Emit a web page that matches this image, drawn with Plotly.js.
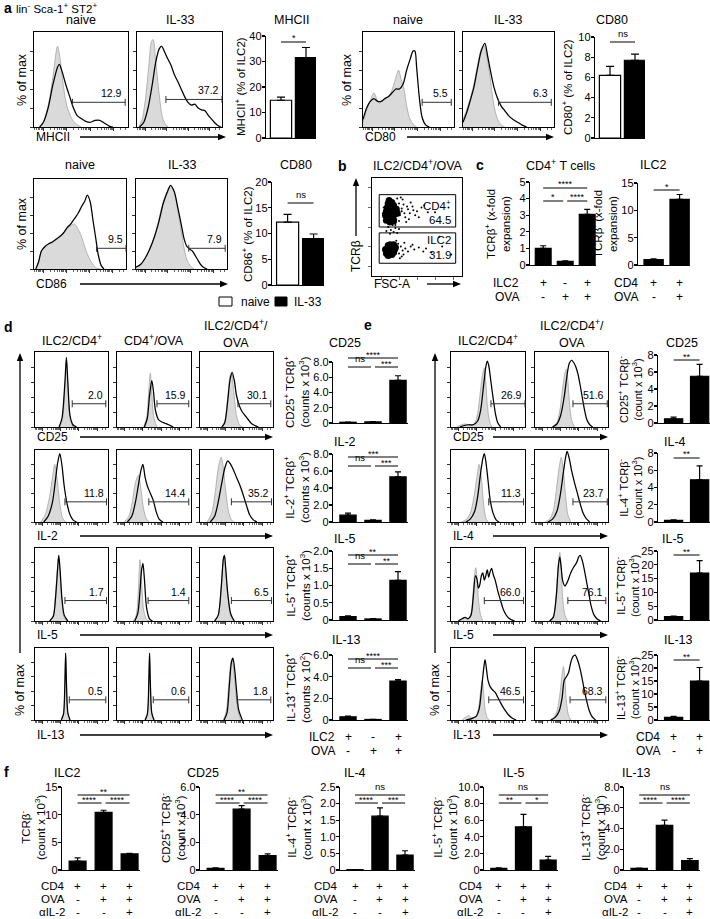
<!DOCTYPE html>
<html><head><meta charset="utf-8">
<script src="https://cdn.plot.ly/plotly-3.0.1.min.js"></script>
<style>html,body{margin:0;padding:0;background:#fff}#plot{width:710px;height:919px}</style>
</head><body><div id="plot"></div>
<script>
// ================= DATA =================
// Histogram curves: flattened pairs (x position in % of axis, % of max)
// Panel a
const A1g=[5,0,10,5,15,22,20,52,25,85,28,70,31,45,35,22,40,9,45,3,50,0];
const A1b=[6,0,10,5,15,20,20,44,25,63,27,66,30,58,34,44,38,32,42,20,46,12,50,9,55,6,60,5,65,7,70,7,75,4,80,1,84,0];
const A2g=[2,0,6,8,10,30,14,65,17,90,19,92,22,70,26,35,30,10,34,2,37,0];
const A2b=[3,0,8,5,13,20,18,45,22,68,26,82,29,85,32,80,36,72,40,65,44,55,48,48,52,40,56,32,60,26,64,23,68,24,72,20,76,18,80,17,84,12,88,8,92,4,96,1,99,0];
const A3g=[0,5,4,18,8,28,12,36,15,30,18,25,22,28,26,30,30,35,34,45,37,55,39,60,42,50,45,40,48,22,51,10,55,3,59,0];
const A3b=[0,8,4,20,8,27,12,30,16,27,20,27,24,30,28,32,32,36,36,40,40,40,44,45,48,60,52,72,55,80,57,80,59,62,62,30,65,10,69,2,73,0];
const A4g=[0,8,4,18,8,30,12,45,16,65,20,82,23,86,26,75,29,58,32,35,35,18,38,8,42,2,46,0];
const A4b=[0,5,4,15,8,28,12,42,16,62,20,80,24,88,27,75,30,60,34,42,38,30,42,22,46,17,50,12,55,8,60,5,65,2,70,0];
const A5g=[2,0,5,8,8,20,12,25,16,28,20,30,24,33,28,36,32,40,36,45,40,48,44,50,47,46,50,40,53,32,56,22,60,12,64,5,68,1,72,0];
const A5b=[2,0,5,8,8,20,12,25,16,28,20,30,24,33,28,36,32,40,36,46,40,50,44,56,48,62,52,70,55,75,58,82,61,75,64,55,67,35,70,15,73,4,76,0];
const A6g=[0,2,5,5,10,12,15,22,20,35,25,55,30,75,35,88,38,93,42,85,46,65,50,40,53,22,56,10,60,3,64,0];
const A6b=[0,2,5,5,10,12,15,22,20,35,25,52,30,73,35,87,38,93,42,86,46,68,50,48,53,33,56,25,59,22,62,20,65,15,68,10,71,5,74,2,78,0];
const A_gates=[[41,97,26],[34,100,29],[65,97,26],[39,97,26],[68,100,23],[58,98,23]];
const A_gateLabels=['12.9','37.2','5.5','6.3','9.5','7.9'];
// Panel d (rows CD25, IL-2, IL-5, IL-13; cols ILC2/CD4+, CD4+/OVA, ILC2/CD4+/OVA)
const D11g=[34,0,38,12,41,55,43,88,45,55,48,12,52,0];
const D11b=[33,0,37,12,41,60,43,93,45,60,48,15,52,3,57,0];
const D12g=[36,0,40,12,43,50,45,72,47,45,50,12,54,0];
const D12b=[37,0,41,12,44,42,47,62,49,50,52,22,56,10,60,7,65,5,70,3,76,0];
const D13g=[30,0,34,8,38,40,41,68,43,72,46,50,50,15,54,3,58,0];
const D13b=[30,0,34,6,38,35,41,62,44,73,47,62,50,42,54,28,58,20,62,15,66,10,70,5,75,2,80,0];
const D21g=[8,0,14,10,20,35,24,62,27,80,30,62,34,25,38,5,42,0];
const D21b=[12,0,18,8,24,28,28,58,31,82,34,95,37,78,40,50,44,25,48,10,52,3,57,0];
const D22g=[10,0,16,8,21,30,25,55,29,65,32,48,36,18,40,4,44,0];
const D22b=[14,0,20,8,25,28,29,52,32,70,35,80,38,62,41,50,45,40,49,30,53,14,57,4,62,0];
const D23g=[10,0,16,12,21,42,25,75,29,90,32,75,35,45,39,15,43,3,47,0];
const D23b=[14,0,20,8,25,28,30,55,34,75,38,85,42,80,46,72,50,62,55,50,60,35,64,22,68,10,73,3,78,0];
const D31g=[20,0,25,8,28,35,31,75,32.5,88,34,70,37,25,40,5,44,0];
const D31b=[20,0,25,6,28,30,31,72,32.5,90,34,75,37,30,40,8,45,0];
const D32g=[22,0,26,8,29,45,31,84,33,60,36,15,40,2,44,0];
const D32b=[24,0,28,10,31,40,33,68,35,79,37,58,40,18,44,3,48,0];
const D33g=[20,0,25,8,29,45,32,82,33.5,88,35,72,38,35,42,8,46,0];
const D33b=[20,0,25,8,29,45,32,85,33.5,90,35,75,38,38,42,10,47,0];
const D41g=[36,0,39,8,41,50,42,90,43,50,45,8,48,0];
const D41b=[36,0,39,8,41,55,42,93,43,55,45,10,48,0];
const D42g=[38,0,41,8,43,50,44,90,45,50,47,8,50,0];
const D42b=[38,0,41,8,43,55,44,93,45,55,47,10,50,0];
const D43g=[32,0,36,12,39,45,42,78,44,85,46,72,49,40,52,12,56,0];
const D43b=[33,0,37,10,40,45,43,80,45,86,47,75,50,42,53,14,58,0];
const D_gates=[[51,97,31],[54,97,31],[52,97,31],[41,98,28],[43,97,28],[43,98,28],[41,98,28],[42,97,28],[43,98,28],[47,97,28],[49,97,28],[51,97,28]];
const D_gateLabels=['2.0','15.9','30.1','11.8','14.4','35.2','1.7','1.4','6.5','0.5','0.6','1.8'];
// Panel e (rows CD25, IL-4, IL-5, IL-13; cols ILC2/CD4+, ILC2/CD4+/OVA)
const E11g=[8,0,14,3,20,4,26,2,32,5,36,18,40,50,43,72,45,79,47,60,49,30,52,8,55,0];
const E11b=[12,0,18,2,24,3,30,3,36,8,40,22,44,55,47,80,49,88,51,82,54,60,57,38,60,18,63,6,67,0];
const E12g=[24,0,30,6,34,22,38,52,41,72,43,77,45,62,47,35,50,10,54,0];
const E12b=[24,0,30,4,35,15,40,40,44,70,47,85,50,89,53,86,56,80,59,70,62,55,65,38,68,22,71,10,75,3,79,0];
const E21g=[14,0,20,3,26,12,31,35,35,62,38,80,41,62,44,25,47,6,50,0];
const E21b=[20,0,26,4,32,15,36,35,40,68,43,88,45,95,47,85,50,58,53,30,57,12,61,3,65,0];
const E22g=[14,0,20,4,25,15,29,42,33,75,36,90,39,70,42,35,45,10,49,0];
const E22b=[18,0,24,4,30,15,35,40,39,70,42,90,44,98,47,88,50,72,54,55,58,40,62,25,66,12,70,5,75,0];
const E31g=[10,0,15,3,19,5,23,3,27,10,30,40,32,65,33.5,73,35,60,37,30,40,8,43,0];
const E31b=[10,0,15,3,19,5,23,3,27,8,30,32,33,62,35,58,37,45,39,50,41,62,43,66,45,56,47,62,49,70,51,60,53,68,55,72,57,64,60,55,63,42,67,28,71,15,76,6,81,2,86,0];
const E32g=[20,0,25,6,29,35,32,80,34,94,36,70,38,30,41,8,45,0];
const E32b=[20,0,25,5,29,32,32,75,34,88,36,72,38,55,41,48,45,55,49,66,53,74,57,80,60,88,62,90,65,82,68,68,71,52,74,36,77,20,81,8,86,2,90,0];
const E41g=[15,0,20,4,24,6,28,3,33,4,37,15,40,40,42,55,44,40,46,15,49,3,52,0];
const E41b=[20,0,28,2,34,5,38,15,41,40,44,70,46,84,48,70,50,55,53,46,56,42,60,38,64,30,68,22,72,15,77,8,82,3,88,0];
const E42g=[20,0,26,4,30,12,34,35,37,62,39,74,41,55,43,25,46,6,49,0];
const E42b=[22,0,28,4,33,12,37,30,40,55,43,60,46,66,49,80,52,88,55,90,58,84,62,70,66,50,70,30,74,14,78,5,83,0];
const E_gates=[[54,100,31],[52,99,31],[51,98,28],[52,99,28],[45,98,28],[45,97,28],[51,98,28],[48,97,28]];
const E_gateLabels=['26.9','51.6','11.3','23.7','66.0','76.1','46.5','68.3'];

// Panel b dot plot (FSC-A %, TCRβ %)
const bCoreX=[15,17,19,21,23,25,16,18,20,22,24,26,17,19,21,23,25,27,18,20,22,24,16,20,24,28,19,23, 15,17,19,21,23,25,16,18,20,22,24,26,18,22,20,24];
const bCoreY=[62,60,58,59,61,63,66,65,64,66,65,67,70,69,71,70,69,68,74,73,75,72,57,55,56,64,77,60, 27,25,29,26,28,27,23,31,24,30,24,29,21,22,32,32];
const bDotX=[29,31,33,35,37,40,42,45,48,30,34,38,43,50,55,28,26,32,36,41,46,52,58,62,12,13,30,27,33,39,18,21,24,20,26,16,23,28,30,28,30,32,34,37,40,43,47,29,33,36,52,57,31,13,27,35,45,60,66,70,78,85,88,75];
const bDotY=[70,62,66,73,60,68,64,71,62,56,78,55,75,66,70,79,52,80,64,58,67,60,72,65,64,70,74,58,69,71,50,47,45,43,49,46,52,44,48,27,23,30,26,28,25,30,27,33,20,34,29,25,18,26,36,22,32,28,24,65,30,70,22,40];
const bGateLabels=['CD4<sup>+</sup>','64.5','ILC2','31.9'];

// Bar charts
const a_MHCII=[14.8,31.5], a_MHCII_err=[1.2,4.0];
const a_CD80=[6.2,7.7], a_CD80_err=[0.9,0.6];
const a_CD86=[12.2,9.0], a_CD86_err=[1.5,0.9];
const c_CD4=[1.0,0.22,3.05], c_CD4_err=[0.16,0.03,0.3];
const c_ILC2=[1.0,12.0], c_ILC2_err=[0.12,0.9];
const d_CD25=[0.1,0.15,5.6], d_CD25_err=[0.02,0.03,0.6];
const d_IL2=[0.8,0.2,5.3], d_IL2_err=[0.25,0.05,0.6];
const d_IL5=[0.1,0.03,1.15], d_IL5_err=[0.02,0.01,0.25];
const d_IL13=[0.3,0.05,3.6], d_IL13_err=[0.05,0.02,0.12];
const e_CD25=[0.5,5.5], e_CD25_err=[0.2,1.4];
const e_IL4=[0.2,4.9], e_IL4_err=[0.05,1.6];
const e_IL5=[1.2,17], e_IL5_err=[0.2,4.5];
const e_IL13=[1.0,15], e_IL13_err=[0.4,5.2];
const f_ILC2=[1.6,10.4,2.9], f_ILC2_err=[0.6,0.4,0.12];
const f_CD25=[0.12,4.4,1.05], f_CD25_err=[0.03,0.25,0.12];
const f_IL4=[0.01,1.62,0.45], f_IL4_err=[0.005,0.25,0.13];
const f_IL5=[0.2,5.2,1.2], f_IL5_err=[0.05,1.5,0.45];
const f_IL13=[0.15,4.3,0.9], f_IL13_err=[0.04,0.5,0.2];

const c1_rows=[['ILC2',['+','-','+']],['OVA',['-','+','+']]];
const c2_rows=[['CD4',['+','+']],['OVA',['-','+']]];
const d_rows=[['ILC2',['+','-','+']],['OVA',['-','+','+']]];
const e_rows=[['CD4',['+','+']],['OVA',['-','+']]];
const f_rows=[['CD4',['+','+','+']],['OVA',['-','+','+']],['αIL-2',['-','-','+']]];

// ================= DRAWING =================
const W=710,H=919;
const FONT='Liberation Sans, Arial, sans-serif';
const PX=x=>x/W, PY=y=>1-y/H;
const data=[], shapes=[], ann=[];
const layout={width:W,height:H,margin:{l:0,r:0,t:0,b:0},paper_bgcolor:'#fff',plot_bgcolor:'rgba(0,0,0,0)',
  showlegend:false,font:{family:FONT,size:12,color:'#000'}};
let nAx=0;
function addAxes(x0,x1,y0,y1,xo,yo){
  nAx++;
  const s=nAx===1?'':String(nAx);
  layout['xaxis'+s]=Object.assign({domain:[PX(x0),PX(x1)],anchor:'y'+s,fixedrange:true},JSON.parse(JSON.stringify(xo)));
  layout['yaxis'+s]=Object.assign({domain:[PY(y1),PY(y0)],anchor:'x'+s,fixedrange:true},JSON.parse(JSON.stringify(yo)));
  return {xid:'x'+s,yid:'y'+s};
}
function text(x,y,t,o){ann.push(Object.assign({xref:'paper',yref:'paper',x:PX(x),y:PY(y),text:t,showarrow:false,xanchor:'center',yanchor:'middle',font:{size:12}},o||{}));}
function line(x0,y0,x1,y1,w,c){shapes.push({type:'line',xref:'paper',yref:'paper',x0:PX(x0),y0:PY(y0),x1:PX(x1),y1:PY(y1),line:{color:c||'#000',width:w||1}});}
function rect(x0,y0,x1,y1,fill){shapes.push({type:'rect',xref:'paper',yref:'paper',x0:PX(x0),y0:PY(y0),x1:PX(x1),y1:PY(y1),fillcolor:fill,line:{color:'#000',width:1}});}
function tri(p){shapes.push({type:'path',xref:'paper',yref:'paper',path:'M'+p.map(q=>PX(q[0])+','+PY(q[1])).join('L')+'Z',fillcolor:'#000',line:{width:0}});}
function arrowH(x0,x1,y){line(x0,y,x1-6,y,1.3);tri([[x1,y],[x1-8,y-3.2],[x1-8,y+3.2]]);}
function arrowV(x,y0,y1){line(x,y0,x,y1+6,1.3);tri([[x,y1],[x-3.2,y1+8],[x+3.2,y1+8]]);}

// histogram axes style
const HX_MIN=[];[-15,10,35,60,85].forEach(d=>{for(let k=2;k<10;k++){const v=d+25*Math.log10(k);if(v>0&&v<100)HX_MIN.push(v);}});
const HXA={range:[0,100],showline:true,mirror:true,linecolor:'#000',linewidth:1.1,ticks:'outside',ticklen:3,tickwidth:0.8,tickcolor:'#000',
  tickvals:[10,35,60,85],showticklabels:false,showgrid:false,zeroline:false,
  minor:{tickvals:HX_MIN,ticks:'outside',ticklen:1.6,tickwidth:0.6,tickcolor:'#000',showgrid:false}};
const HYA={range:[0,100],showline:true,mirror:true,linecolor:'#000',linewidth:1.1,ticks:'outside',ticklen:2.5,tickwidth:0.8,tickcolor:'#000',
  tickvals:[0,20,40,60,80],showticklabels:false,showgrid:false,zeroline:false};

function curve(a,ax,filled){
  const x=[],y=[];for(let i=0;i<a.length;i+=2){x.push(a[i]);y.push(a[i+1]);}
  const t={type:'scatter',mode:'lines',x,y,xaxis:ax.xid,yaxis:ax.yid,hoverinfo:'skip',
    line:{shape:'spline',smoothing:0.8,color:filled?'#a3a3a3':'#000',width:filled?0.8:1.25}};
  if(filled){t.fill='tozeroy';t.fillcolor='#dadada';}
  return t;
}
function hist(box,g,b,gate,lab){
  const [x0,x1,y0,y1]=box;
  const ax=addAxes(x0,x1,y0,y1,HXA,HYA);
  data.push(curve(g,ax,true));data.push(curve(b,ax,false));
  const gx0=x0+(x1-x0)*gate[0]/100,gx1=x0+(x1-x0)*gate[1]/100,gy=y1-(y1-y0)*gate[2]/100;
  line(gx0,gy,gx1,gy,1,'#333');line(gx0,gy-3.5,gx0,gy+3.5,1,'#333');line(gx1,gy-3.5,gx1,gy+3.5,1,'#333');
  text(gx1-1,gy-1,lab,{xanchor:'right',yanchor:'bottom',font:{size:10.5}});
}
function bars(c){
  const n=c.vals.length,lo=0.6,hi=0.4;
  const ax=addAxes(c.x0,c.x1,c.yTop,c.y0,
    {range:[-lo,n-1+hi],showline:true,linecolor:'#000',linewidth:1.2,ticks:'',showticklabels:false,showgrid:false,zeroline:false},
    {range:[0,c.ymax],showline:true,linecolor:'#000',linewidth:1.2,ticks:'outside',ticklen:3,tickwidth:1.1,tickcolor:'#000',
     ticklabelstandoff:-2,tickvals:c.tv,ticktext:c.tt,tickfont:{size:11},showgrid:false,zeroline:false});
  data.push({type:'bar',x:c.vals.map((v,i)=>i),y:c.vals,width:c.bw,xaxis:ax.xid,yaxis:ax.yid,hoverinfo:'skip',
    marker:{color:c.colors||'#000',line:{color:'#000',width:1.2}},
    error_y:{type:'data',symmetric:false,array:c.errs,arrayminus:c.errs.map(()=>0),color:'#000',thickness:1.2,width:c.ew||3}});
  if(c.title)text(c.title[1],c.title[2],c.title[0],{font:{size:12.5}});
  if(c.ylab)text(c.ylab[1],c.ylab[2],c.ylab[0],{textangle:-90,font:{size:c.yfs||11.5}});
  return {cx:i=>c.x0+(i+lo)/(n-1+hi+lo)*(c.x1-c.x0)};
}
function sig(ch,i,j,y,t,a,b){
  const x0=ch.cx(i)+(a||0),x1=ch.cx(j)-(b||0);
  line(x0,y,x1,y,1);
  if(t==='ns')text((x0+x1)/2,y-1,t,{yanchor:'bottom',font:{size:9.5}});
  else text((x0+x1)/2,y+3.5,t,{yanchor:'bottom',font:{size:9}});
}
function signs(ch,rows,lx,ys,fs){rows.forEach((r,k)=>{text(lx,ys[k],r[0],{xanchor:'right',font:{size:fs||12}});r[1].forEach((s,i)=>text(ch.cx(i),ys[k],s,{font:{size:fs||12}}));});}

// ---------- Panel a ----------
text(2,8,'<b>a</b>',{xanchor:'left',font:{size:14}});
text(14,8,'lin<sup>-</sup> Sca-1<sup>+</sup> ST2<sup>+</sup>',{xanchor:'left',font:{size:11.5}});
const aBoxes=[[34,128,32,127],[137,222,32,127],[363,454,32,127],[463,554,32,127],[34,126,179,269],[136,227,179,269]];
const aG=[A1g,A2g,A3g,A4g,A5g,A6g],aB=[A1b,A2b,A3b,A4b,A5b,A6b];
aBoxes.forEach((bx,i)=>hist(bx,aG[i],aB[i],A_gates[i],A_gateLabels[i]));
[['naive',81,20],['IL-33',180,20],['naive',408,20],['IL-33',508,20],['naive',80,165],['IL-33',182,165]].forEach(t=>text(t[1],t[2],t[0],{font:{size:12.5}}));
[[22,80],[347,80],[22,224]].forEach(p=>text(p[0],p[1],'% of max',{textangle:-90,font:{size:12.5}}));
text(34,137,'MHCII',{xanchor:'left'});arrowH(80,226,137);
text(363,137,'CD80',{xanchor:'left'});arrowH(407,554,137);
text(34,284,'CD86',{xanchor:'left'});arrowH(80,228,284);
const WB=['#fff','#000'];
const ca1=bars({x0:266,x1:316,yTop:36,y0:138,ymax:40,tv:[0,10,20,30,40],tt:['0','10','20','30','40'],vals:a_MHCII,errs:a_MHCII_err,colors:WB,bw:0.85,ew:4,
  title:['MHCII',291,20],ylab:['MHCII<sup>+</sup> (% of ILC2)',240,87]});
sig(ca1,0,1,42,'*');
const ca2=bars({x0:595,x1:645,yTop:37,y0:138,ymax:10,tv:[0,2,4,6,8,10],tt:['0','2','4','6','8','10'],vals:a_CD80,errs:a_CD80_err,colors:WB,bw:0.85,ew:4,
  title:['CD80',612,20],ylab:['CD80<sup>+</sup> (% of ILC2)',567,87]});
sig(ca2,0,1,42,'ns');
const ca3=bars({x0:272,x1:324,yTop:182,y0:285,ymax:20,tv:[0,5,10,15,20],tt:['0','5','10','15','20'],vals:a_CD86,errs:a_CD86_err,colors:WB,bw:0.85,ew:4,
  title:['CD80',296,165],ylab:['CD86<sup>+</sup> (% of ILC2)',247,234]});
sig(ca3,0,1,203,'ns');
rect(219,297,232,306,'#fff');text(239,302,'naive',{xanchor:'left'});
rect(275,297,287,306,'#000');text(292,302,'IL-33',{xanchor:'left'});

// ---------- Panel b ----------
text(336,166,'<b>b</b>',{xanchor:'left',font:{size:14}});
text(418,165,'ILC2/CD4<sup>+</sup>/OVA',{font:{size:12.5}});
const axb=addAxes(372,462,178,276,
  {range:[0,100],showline:true,mirror:true,linecolor:'#000',linewidth:1.1,ticks:'outside',ticklen:2.5,tickwidth:0.8,tickvals:[10,30,50,70,90],showticklabels:false,showgrid:false,zeroline:false},
  {range:[0,100],showline:true,mirror:true,linecolor:'#000',linewidth:1.1,ticks:'outside',ticklen:2.5,tickwidth:0.8,tickvals:[10,30,50,70,90],showticklabels:false,showgrid:false,zeroline:false});
data.push({type:'scatter',mode:'markers',x:bDotX,y:bDotY,xaxis:axb.xid,yaxis:axb.yid,marker:{size:2,color:'#000'},hoverinfo:'skip'});
data.push({type:'scatter',mode:'markers',x:bCoreX,y:bCoreY,xaxis:axb.xid,yaxis:axb.yid,marker:{size:7,color:'#000'},hoverinfo:'skip'});
shapes.push({type:'rect',xref:axb.xid,yref:axb.yid,x0:8,x1:93,y0:50,y1:83,line:{color:'#000',width:1}});
shapes.push({type:'rect',xref:axb.xid,yref:axb.yid,x0:8,x1:93,y0:13,y1:44,line:{color:'#000',width:1}});
[[72,0],[57,1],[37,2],[21,3]].forEach(p=>ann.push({xref:axb.xid,yref:axb.yid,x:90,y:p[0],text:bGateLabels[p[1]],showarrow:false,xanchor:'right',yanchor:'middle',font:{size:11.5}}));
text(356,256,'TCRβ',{textangle:-90});arrowV(356,236,178);
text(372,284,'FSC-A',{xanchor:'left'});arrowH(427,461,284);

// ---------- Panel c ----------
text(474,165,'<b>c</b>',{xanchor:'left',font:{size:14}});
const cc1=bars({x0:530,x1:596,yTop:182,y0:265,ymax:5,tv:[0,1,2,3,4,5],tt:['0','1','2','3','4','5'],vals:c_CD4,errs:c_CD4_err,bw:0.72,
  title:['CD4<sup>+</sup> T cells',560,165],ylab:['TCRβ<sup>+</sup> (x-fold<br>expansion)',497,224]});
sig(cc1,0,2,188,'****');sig(cc1,0,1,201,'*',0,2);sig(cc1,1,2,201,'****',2,0);
signs(cc1,c1_rows,521,[283,297]);
const cc2=bars({x0:638,x1:690,yTop:183,y0:265,ymax:15,tv:[0,5,10,15],tt:['0','5','10','15'],vals:c_ILC2,errs:c_ILC2_err,bw:0.74,
  title:['ILC2',653,165],ylab:['TCRβ<sup>-</sup> (x-fold<br>expansion)',604,224]});
sig(cc2,0,1,190,'*');
signs(cc2,c2_rows,640,[283,297]);

// ---------- Panel d ----------
text(2,327,'<b>d</b>',{xanchor:'left',font:{size:14}});
text(72,340,'ILC2/CD4<sup>+</sup>',{font:{size:12.5}});
text(154,340,'CD4<sup>+</sup>/OVA',{font:{size:12.5}});
text(236,333,'ILC2/CD4<sup>+</sup>/<br>OVA',{font:{size:12.5}});
const dCols=[[35,108],[117,191],[200,273]],hRows=[[352,427],[450,522],[548,621],[648,720]];
const dG=[[D11g,D12g,D13g],[D21g,D22g,D23g],[D31g,D32g,D33g],[D41g,D42g,D43g]];
const dB=[[D11b,D12b,D13b],[D21b,D22b,D23b],[D31b,D32b,D33b],[D41b,D42b,D43b]];
hRows.forEach((r,ri)=>dCols.forEach((c,ci)=>hist([c[0],c[1],r[0],r[1]],dG[ri][ci],dB[ri][ci],D_gates[ri*3+ci],D_gateLabels[ri*3+ci])));
const rowLabY=[437,536,635,735];
['CD25','IL-2','IL-5','IL-13'].forEach((t,i)=>{text(35,rowLabY[i],t,{xanchor:'left'});arrowH(80,273,rowLabY[i]);});
arrowV(20,653,353);text(20,690,'% of max',{textangle:-90,font:{size:12.5}});
const dT=['0','2.0','4.0','6.0','8.0'];
const cd1=bars({x0:333,x1:408,yTop:362,y0:423,ymax:8,tv:[0,2,4,6,8],tt:dT,vals:d_CD25,errs:d_CD25_err,bw:0.65,
  title:['CD25',345,343],ylab:['CD25<sup>+</sup> TCRβ<sup>+</sup><br>(counts x 10<sup>3</sup>)',297,392]});
sig(cd1,0,2,358,'****');sig(cd1,0,1,367,'ns',0,2);sig(cd1,1,2,367,'***',2,0);
const cd2=bars({x0:333,x1:408,yTop:454,y0:522,ymax:8,tv:[0,2,4,6,8],tt:dT,vals:d_IL2,errs:d_IL2_err,bw:0.65,
  title:['IL-2',345,442],ylab:['IL-2<sup>+</sup> TCRβ<sup>+</sup><br>(counts x 10<sup>3</sup>)',297,488]});
sig(cd2,0,2,457,'***');sig(cd2,0,1,466,'ns',0,2);sig(cd2,1,2,466,'***',2,0);
const cd3=bars({x0:333,x1:408,yTop:551,y0:620,ymax:2,tv:[0,0.5,1,1.5,2],tt:['0','0.5','1.0','1.5','2.0'],vals:d_IL5,errs:d_IL5_err,bw:0.65,
  title:['IL-5',345,539],ylab:['IL-5<sup>+</sup> TCRβ<sup>+</sup><br>(counts x 10<sup>3</sup>)',297,586]});
sig(cd3,0,2,555,'**');sig(cd3,0,1,564,'ns',0,2);sig(cd3,1,2,564,'**',2,0);
const cd4=bars({x0:333,x1:408,yTop:655,y0:720,ymax:6,tv:[0,2,4,6],tt:['0','2.0','4.0','6.0'],vals:d_IL13,errs:d_IL13_err,bw:0.65,
  title:['IL-13',346,640],ylab:['IL-13<sup>+</sup> TCRβ<sup>+</sup><br>(counts x 10<sup>2</sup>)',297,688]});
sig(cd4,0,2,659,'****');sig(cd4,0,1,668,'ns',0,2);sig(cd4,1,2,668,'***',2,0);
signs(cd4,d_rows,337,[737,751]);

// ---------- Panel e ----------
text(362,325,'<b>e</b>',{xanchor:'left',font:{size:14}});
text(488,340,'ILC2/CD4<sup>+</sup>',{font:{size:12.5}});
text(572,333,'ILC2/CD4<sup>+</sup>/<br>OVA',{font:{size:12.5}});
const eCols=[[451,525],[535,608]];
const eG=[[E11g,E12g],[E21g,E22g],[E31g,E32g],[E41g,E42g]];
const eB=[[E11b,E12b],[E21b,E22b],[E31b,E32b],[E41b,E42b]];
hRows.forEach((r,ri)=>eCols.forEach((c,ci)=>hist([c[0],c[1],r[0],r[1]],eG[ri][ci],eB[ri][ci],E_gates[ri*2+ci],E_gateLabels[ri*2+ci])));
['CD25','IL-4','IL-5','IL-13'].forEach((t,i)=>{text(451,rowLabY[i],t,{xanchor:'left'});arrowH(493,608,rowLabY[i]);});
arrowV(435,653,353);text(435,690,'% of max',{textangle:-90,font:{size:12.5}});
const ce1=bars({x0:658,x1:710,yTop:355,y0:423,ymax:8,tv:[0,2,4,6,8],tt:['0','2','4','6','8'],vals:e_CD25,errs:e_CD25_err,bw:0.7,yfs:11,
  title:['CD25',682,343],ylab:['CD25<sup>+</sup> TCRβ<sup>-</sup><br>(count x 10<sup>3</sup>)',630,390]});
sig(ce1,0,1,360,'**');
const ce2=bars({x0:658,x1:710,yTop:453,y0:522,ymax:8,tv:[0,2,4,6,8],tt:['0','2','4','6','8'],vals:e_IL4,errs:e_IL4_err,bw:0.7,yfs:11,
  title:['IL-4',675,442],ylab:['IL-4<sup>+</sup> TCRβ<sup>-</sup><br>(count x 10<sup>3</sup>)',630,488]});
sig(ce2,0,1,458,'**');
const ce3=bars({x0:658,x1:710,yTop:551,y0:620,ymax:25,tv:[0,5,10,15,20,25],tt:['0','5','10','15','20','25'],vals:e_IL5,errs:e_IL5_err,bw:0.7,yfs:11,
  title:['IL-5',673,539],ylab:['IL-5<sup>+</sup> TCRβ<sup>-</sup><br>(count x 10<sup>3</sup>)',627,586]});
sig(ce3,0,1,555,'**');
const ce4=bars({x0:658,x1:710,yTop:655,y0:720,ymax:25,tv:[0,5,10,15,20,25],tt:['0','5','10','15','20','25'],vals:e_IL13,errs:e_IL13_err,bw:0.7,yfs:11,
  title:['IL-13',678,640],ylab:['IL-13<sup>+</sup> TCRβ<sup>-</sup><br>(count x 10<sup>3</sup>)',627,688]});
sig(ce4,0,1,660,'**');
signs(ce4,e_rows,662,[737,751]);

// ---------- Panel f ----------
text(2,772,'<b>f</b>',{xanchor:'left',font:{size:14}});
const fRowY=[886,899,912];
const f1=bars({x0:62,x1:140,yTop:787,y0:870,ymax:15,tv:[0,5,10,15],tt:['0','5','10','15'],vals:f_ILC2,errs:f_ILC2_err,bw:0.65,
  title:['ILC2',67,773],ylab:['TCRβ<sup>-</sup><br>(count x 10<sup>3</sup>)',32,828]});
sig(f1,0,2,795,'**');sig(f1,0,1,803,'****',0,2);sig(f1,1,2,803,'****',2,0);
signs(f1,f_rows,67,fRowY,11.5);
const f2=bars({x0:200,x1:278,yTop:787,y0:870,ymax:6,tv:[0,2,4,6],tt:['0','2.0','4.0','6.0'],vals:f_CD25,errs:f_CD25_err,bw:0.65,
  title:['CD25',203,773],ylab:['CD25<sup>+</sup> TCRβ<sup>-</sup><br>(count x 10<sup>3</sup>)',172,828]});
sig(f2,0,2,795,'**');sig(f2,0,1,803,'****',0,2);sig(f2,1,2,803,'****',2,0);
signs(f2,f_rows,203,fRowY,11.5);
const f3=bars({x0:340,x1:415,yTop:787,y0:870,ymax:2.5,tv:[0,0.5,1,1.5,2,2.5],tt:['0','0.5','1.0','1.5','2.0','2.5'],vals:f_IL4,errs:f_IL4_err,bw:0.65,
  title:['IL-4',355,773],ylab:['IL-4<sup>+</sup> TCRβ<sup>-</sup><br>(count x 10<sup>3</sup>)',298,828]});
sig(f3,0,2,795,'ns');sig(f3,0,1,803,'****',0,2);sig(f3,1,2,803,'***',2,0);
signs(f3,f_rows,340,fRowY,11.5);
const f4=bars({x0:484,x1:558,yTop:787,y0:870,ymax:10,tv:[0,2,4,6,8,10],tt:['0','2.0','4.0','6.0','8.0','10.0'],vals:f_IL5,errs:f_IL5_err,bw:0.65,
  title:['IL-5',514,773],ylab:['IL-5<sup>+</sup> TCRβ<sup>-</sup><br>(count x 10<sup>3</sup>)',444,828]});
sig(f4,0,2,795,'ns');sig(f4,0,1,803,'**',0,2);sig(f4,1,2,803,'*',2,0);
signs(f4,f_rows,485,fRowY,11.5);
const f5=bars({x0:624,x1:700,yTop:787,y0:870,ymax:8,tv:[0,2,4,6,8],tt:['0','2.0','4.0','6.0','8.0'],vals:f_IL13,errs:f_IL13_err,bw:0.65,
  title:['IL-13',636,773],ylab:['IL-13<sup>+</sup> TCRβ<sup>-</sup><br>(count x 10<sup>3</sup>)',592,828]});
sig(f5,0,2,795,'ns');sig(f5,0,1,803,'****',0,2);sig(f5,1,2,803,'****',2,0);
signs(f5,f_rows,630,fRowY,11.5);

layout.shapes=shapes;layout.annotations=ann;
Plotly.newPlot('plot',data,layout,{staticPlot:true,displayModeBar:false});
</script></body></html>
